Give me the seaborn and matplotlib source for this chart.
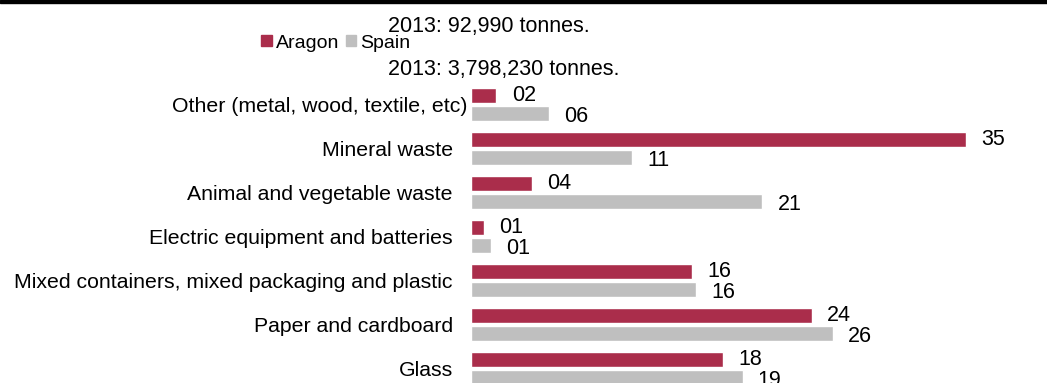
import matplotlib.pyplot as plt
import matplotlib.patches as mpatches
import matplotlib.transforms as mtransforms
import pandas as pd
import seaborn as sns

# share of recycled waste by type, 2013 (%)
categories = ['Other (metal, wood, textile, etc)', 'Mineral waste',
              'Animal and vegetable waste', 'Electric equipment and batteries',
              'Mixed containers, mixed packaging and plastic',
              'Paper and cardboard', 'Glass']
aragon = [1.8, 35.0, 4.3, 0.9, 15.6, 24.1, 17.8]
spain = [5.5, 11.4, 20.6, 1.4, 15.9, 25.6, 19.2]
regions = ['Aragon', 'Spain']
colors = ['#AA2D4B', '#BFBFBF']
note_aragon = '2013: 92,990 tonnes.'
note_spain = '2013: 3,798,230 tonnes.'

df = pd.DataFrame({
    'category': categories * 2,
    'share': aragon + spain,
    'region': ['Aragon'] * len(aragon) + ['Spain'] * len(spain),
})

sns.set_style('white')
plt.rcParams['font.family'] = ['Liberation Sans', 'DejaVu Sans']
plt.rcParams['text.color'] = 'black'
FS = 15.3

W, H = 1047, 383
fig = plt.figure(figsize=(W / 100, H / 100), dpi=100)
ax = fig.add_axes([471 / W, -7.5 / H, 565.7 / W, 308 / H])

sns.barplot(data=df, y='category', x='share', hue='region', orient='h',
            palette=colors, saturation=1, width=0.82, gap=0.17,
            legend=False, ax=ax)

ax.set_xlim(0, 40)
ax.set_ylim(6.5, -0.5)
ax.set_xticks([])
ax.set_xlabel('')
ax.set_ylabel('')
ax.tick_params(axis='y', length=0, pad=13, labelsize=FS, labelcolor='black')
sns.despine(ax=ax, left=True, bottom=True)

# first label sits a little further right in the original
lbl = ax.get_yticklabels()[0]
lbl.set_transform(lbl.get_transform() +
                  mtransforms.ScaledTranslation(15 / 100, 0, fig.dpi_scale_trans))

# value labels
for i, cont in enumerate(ax.containers):
    anns = ax.bar_label(cont, fmt='{:02.0f}', padding=11, fontsize=15.5,
                        color='black')
    if i == 1:
        for a in anns:
            a.xyann = (11, -2)

# black rule at the top
fig.patches.append(mpatches.Rectangle((0, 1 - 3 / H), 1, 3 / H,
                                      transform=fig.transFigure,
                                      color='black', zorder=5))

fig.text(388 / W, 1 - 32 / H, note_aragon, ha='left', va='baseline', fontsize=15.5)
fig.text(388 / W, 1 - 75 / H, note_spain, ha='left', va='baseline', fontsize=15.5)

handles = [mpatches.Patch(color=c, label=r) for r, c in zip(regions, colors)]
fig.legend(handles=handles, loc='center left', bbox_to_anchor=(261 / W, 1 - 43 / H),
           ncol=2, frameon=False, fontsize=14, borderpad=0, borderaxespad=0,
           handlelength=0.55, handleheight=0.55, handletextpad=0.2,
           columnspacing=0.35)

fig.savefig('out.png', dpi=100)
